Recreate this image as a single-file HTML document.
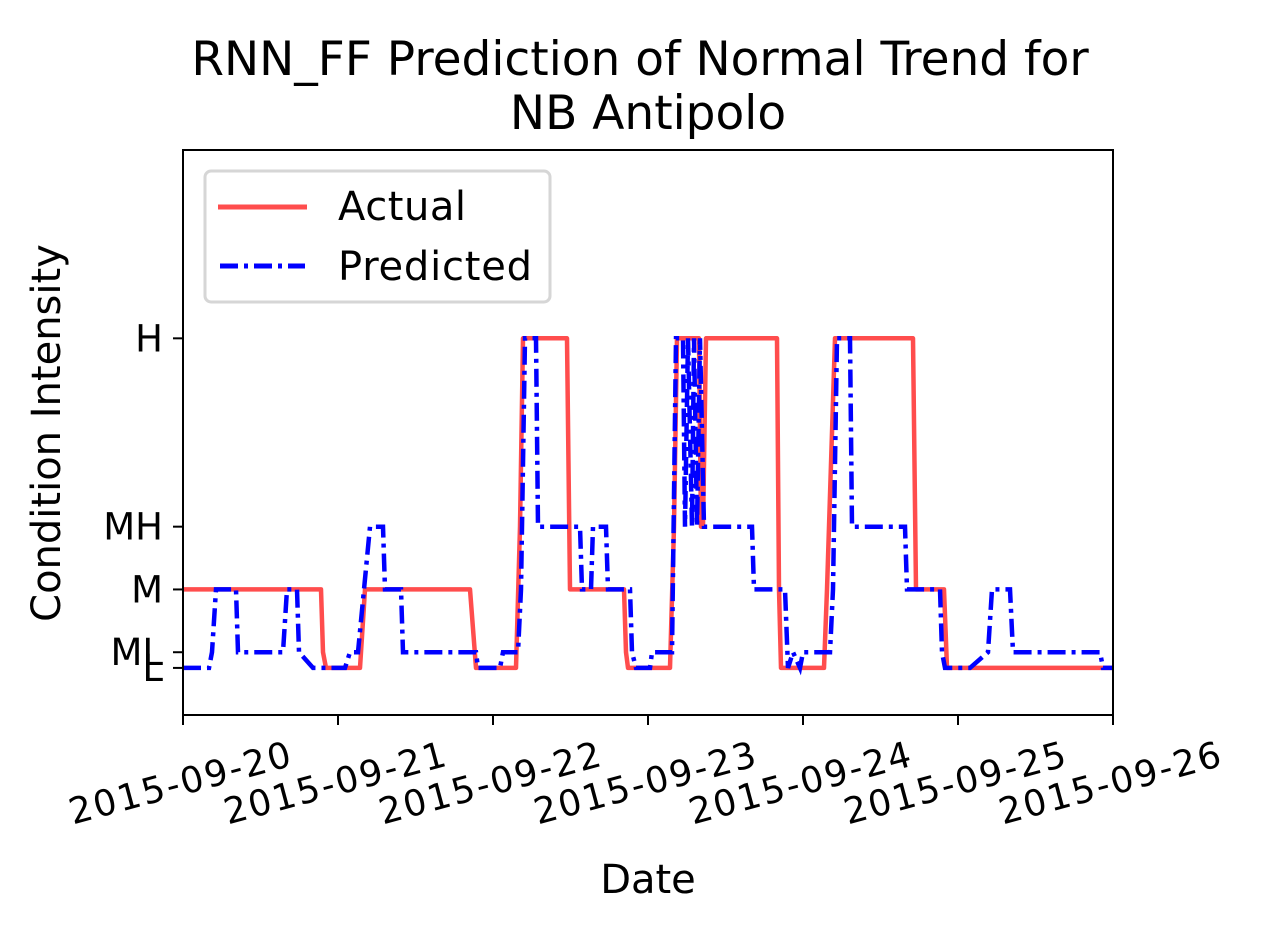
<!DOCTYPE html>
<html><head><meta charset="utf-8"><style>
body{margin:0;background:#fff}
svg text{font-family:"DejaVu Sans","Liberation Sans",sans-serif;fill:#000}
</style></head><body>
<svg width="1265" height="933" viewBox="0 0 1265 933" xmlns="http://www.w3.org/2000/svg">
<text x="640" y="75" font-size="47" text-anchor="middle">RNN_FF Prediction of Normal Trend for</text>
<text x="648" y="129" font-size="47" text-anchor="middle">NB Antipolo</text>
<g id="plot"></g>
<rect x="183" y="150" width="930" height="565" fill="none" stroke="#000" stroke-width="2"/>
<g>
<rect x="205" y="171" width="345" height="131" rx="6" fill="#fff" fill-opacity="0.8" stroke="#d6d6d6" stroke-width="3"/>
<line x1="218" y1="207" x2="307" y2="207" stroke="#ff4d4d" stroke-width="5"/>
<text x="338" y="220" font-size="40" textLength="128">Actual</text>
<line x1="220" y1="266" x2="305" y2="266" stroke="#0000ff" stroke-width="5" stroke-dasharray="18,6,4,6"/>
<text x="338" y="280" font-size="40" textLength="194">Predicted</text>
</g>
<text transform="translate(60,433) rotate(-90)" font-size="40" text-anchor="middle">Condition Intensity</text>
<text x="648" y="893" font-size="40" text-anchor="middle">Date</text>
</svg>
<script>
const levelNames=["L","ML","M","MH","H"];
const levelValues=[0,1,5,9,21];
const dateLabels=["2015-09-20","2015-09-21","2015-09-22","2015-09-23","2015-09-24","2015-09-25","2015-09-26"];
const actualHours=[0,21.37,21.68,22.14,27.41,28.18,44.44,45.37,51.56,52.18,52.65,59.46,59.92,68.28,68.59,68.90,75.41,76.03,76.49,79.90,80.21,80.52,80.98,91.97,92.28,92.59,99.25,99.72,100.03,100.96,113.03,113.50,117.83,118.30,144];
const actualLevels=[5,5,1,0,0,5,5,0,0,9,21,21,5,5,1,0,0,9,21,21,9,9,21,21,5,0,0,5,9,21,21,5,5,0,0];
const predHours=[0,4.03,4.49,5.11,8.21,8.52,15.48,16.10,17.65,17.96,20.13,25.08,25.86,27.10,28.03,28.95,30.97,31.28,33.75,34.06,45.37,45.68,49.08,49.55,51.87,52.34,52.96,54.66,54.97,61.47,61.78,63.17,63.48,65.50,65.81,69.21,69.52,70.14,72.31,72.62,75.72,76.34,77.42,77.73,78.19,78.81,79.12,79.59,80.05,80.67,88.10,88.41,93.21,93.68,94.45,95.54,96.0,100.18,100.65,101.27,103.28,103.59,111.79,112.10,117.21,117.52,117.98,121.86,124.64,125.26,128.05,128.52,141.99,142.45,144];
const predLevels=[0,0,1,5,5,1,1,5,5,1,0,0,1,1,5,9,9,5,5,1,1,0,0,1,1,5,21,21,9,9,5,5,9,9,5,5,1,0,0,1,1,21,21,9,21,9,21,9,21,9,9,5,5,0,1,0,1,1,5,21,21,9,9,5,5,1,0,0,1,5,5,1,1,0,0];

const X0=183,X1=1113,Y0=715,Y1=150,VMIN=-3,VMAX=33,HMAX=144;
const xs=h=>X0+(h/HMAX)*(X1-X0);
const ys=v=>Y0-(v-VMIN)/(VMAX-VMIN)*(Y0-Y1);
const NS="http://www.w3.org/2000/svg";
const g=document.getElementById('plot');
function mk(t,a){const e=document.createElementNS(NS,t);for(const k in a)e.setAttribute(k,a[k]);g.appendChild(e);return e;}
levelNames.forEach((n,i)=>{
  const y=ys(levelValues[i]);
  const t=mk('line',{x1:X0-10,x2:X0,y1:y,y2:y,stroke:'#000','stroke-width':2});
  
  
  const l=mk('text',{x:X0-20,y:y+13,'font-size':37,'text-anchor':'end'});
  l.textContent=n;
  
  
});
dateLabels.forEach((d,i)=>{
  const x=xs(i*24);
  const t=mk('line',{x1:x,x2:x,y1:Y0,y2:Y0+10,stroke:'#000','stroke-width':2});
  
  
  const l=mk('text',{transform:`translate(${x},${Y0+80}) rotate(-15)`,'font-size':36,'text-anchor':'middle',textLength:228});
  l.textContent=d;
  
  
});
function path(hs,ls){return hs.map((h,i)=>(i?'L':'M')+xs(h).toFixed(1)+','+ys(ls[i]).toFixed(1)).join(' ');}
const a=mk('path',{d:path(actualHours,actualLevels),fill:'none',stroke:'#ff4d4d','stroke-width':4.5,'stroke-linejoin':'round'});


const p=mk('path',{d:path(predHours,predLevels),fill:'none',stroke:'#0000ff','stroke-width':4.5,'stroke-dasharray':'18,6,4,6'});


</script>
</body></html>
